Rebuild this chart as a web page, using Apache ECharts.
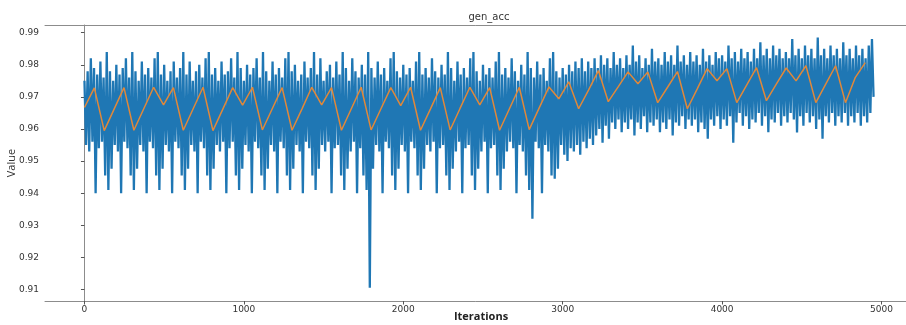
<!DOCTYPE html>
<html>
<head>
<meta charset="utf-8">
<script src="https://cdn.jsdelivr.net/npm/echarts@6/dist/echarts.min.js"></script>
<style>
  html, body { margin: 0; padding: 0; background: #fff; }
  #chart { width: 906px; height: 325px; }
</style>
</head>
<body>
<div id="chart"></div>
<script>
// raw gen_acc, one value every 10 iterations (peaks / dips of the noisy trace)
const blueStep = 10;
const blueValues = [
  .975, .955, .978, .953, .982, .956, .979, .940, .977, .954, .981, .956, .976, .9455, .984, .941, .978, .9476, .975, .955,
  .980, .953, .977, .940, .979, .956, .982, .954, .976, .9455, .984, .941, .978, .9476, .975, .955, .981, .953, .977, .940,
  .979, .956, .976, .954, .982, .9455, .984, .941, .977, .9476, .980, .955, .975, .953, .978, .940, .981, .956, .976, .954,
  .979, .9455, .984, .941, .977, .9476, .981, .955, .975, .953, .978, .940, .980, .956, .976, .954, .982, .9455, .984, .941,
  .977, .9476, .979, .955, .975, .953, .981, .956, .977, .940, .978, .954, .982, .956, .976, .9455, .984, .941, .979, .9476,
  .975, .955, .980, .953, .977, .940, .979, .956, .982, .954, .976, .9455, .984, .941, .978, .9476, .975, .955, .981, .953,
  .977, .940, .979, .956, .976, .954, .982, .9455, .984, .941, .978, .9476, .980, .955, .975, .953, .977, .940, .981, .956,
  .976, .954, .979, .9455, .984, .941, .977, .9476, .982, .955, .975, .953, .978, .956, .980, .940, .976, .954, .981, .955,
  .977, .9455, .984, .941, .979, .9476, .975, .953, .982, .956, .978, .940, .976, .954, .980, .9455, .977, .941, .984, .9105,
  .979, .9476, .976, .955, .981, .953, .977, .940, .979, .956, .975, .954, .982, .9455, .984, .941, .978, .9476, .976, .955,
  .980, .953, .977, .940, .979, .956, .975, .954, .981, .9455, .984, .941, .977, .9476, .979, .955, .976, .953, .982, .956,
  .978, .940, .976, .954, .980, .955, .977, .9455, .984, .941, .979, .9476, .975, .953, .981, .956, .977, .940, .979, .954,
  .976, .955, .982, .9455, .984, .941, .978, .9476, .975, .953, .980, .956, .977, .940, .979, .954, .976, .955, .981, .9455,
  .984, .941, .977, .9476, .979, .953, .976, .956, .982, .954, .978, .940, .975, .955, .980, .953, .977, .9455, .984, .941,
  .979, .932, .976, .956, .981, .954, .977, .940, .979, .955, .975, .953, .982, .9455, .984, .9445, .978, .9476, .976, .955,
  .979, .952, .977, .950, .980, .954, .978, .953, .981, .955, .979, .952, .982, .956, .978, .954, .981, .957, .979, .955,
  .982, .958, .979, .960, .983, .9557, .980, .961, .982, .957, .979, .962, .984, .960, .980, .963, .982, .959, .979, .962,
  .983, .960, .980, .963, .986, .958, .981, .962, .983, .960, .979, .964, .982, .959, .980, .962, .985, .961, .981, .963,
  .982, .959, .980, .962, .984, .960, .981, .963, .983, .958, .980, .962, .986, .961, .981, .964, .983, .960, .980, .963,
  .984, .961, .981, .963, .983, .959, .980, .962, .985, .960, .981, .957, .983, .963, .980, .961, .984, .964, .982, .960,
  .983, .963, .981, .961, .986, .964, .982, .9557, .984, .962, .981, .965, .985, .961, .982, .964, .984, .960, .981, .963,
  .985, .962, .982, .965, .987, .961, .983, .964, .985, .959, .982, .963, .986, .962, .983, .965, .985, .961, .982, .964,
  .984, .962, .982, .965, .988, .963, .983, .9589, .985, .964, .982, .961, .986, .965, .983, .962, .985, .964, .982, .960,
  .9885, .963, .983, .957, .985, .964, .982, .962, .986, .965, .983, .961, .985, .964, .982, .962, .987, .965, .983, .961,
  .985, .964, .982, .962, .986, .965, .983, .961, .985, .964, .982, .962, .986, .965, .988, .970
];

// smoothed curve, one value every 62 iterations
const orangeStep = 62;
const orangeValues = [
  .9667, .9728, .9595, .9662, .9729, .9596, .9663, .9730,
  .9675, .9729, .9596, .9663, .9730, .9595, .9662, .9729,
  .9674, .9730, .9597, .9663, .9729, .9596, .9662, .9730,
  .9675, .9729, .9596, .9663, .9730, .9597, .9663, .9729,
  .9673, .9730, .9596, .9662, .9729, .9597, .9664, .9730,
  .9675, .9729, .9596, .9663, .9730, .9598, .9665, .9731,
  .9694, .9747, .9663, .9721, .9782, .9685, .9731, .9778,
  .9741, .9778, .9682, .9730, .9779, .9663, .9725, .9788,
  .9750, .9788, .9682, .9737, .9791, .9688, .9740, .9790,
  .9750, .9797, .9682, .9740, .9797, .9682, .9761, .9807
];

const xTicks = [0, 1000, 2000, 3000, 4000, 5000];
const yTicks = [0.91, 0.92, 0.93, 0.94, 0.95, 0.96, 0.97, 0.98, 0.99];

const chart = echarts.init(document.getElementById('chart'));
const tickFont = { fontFamily: 'DejaVu Sans', fontSize: 9, color: '#333' };
const spine = { lineStyle: { color: '#8c8c8c', width: 1 } };

const option = {
  animation: false,
  backgroundColor: '#fff',
  grid: {
    left: 45, top: 25, width: 868, height: 276,
    outerBoundsMode: 'none',
    containLabel: false
  },
  xAxis: [{
    type: 'value',
    min: -247.5, max: 5197.5,
    splitLine: { show: false },
    axisLine: spine,
    axisTick: { customValues: xTicks, length: 3.5, lineStyle: { color: '#555' } },
    axisLabel: Object.assign({ customValues: xTicks, margin: 4, formatter: v => String(v) }, tickFont)
  }, {
    // top spine only
    type: 'value', position: 'top',
    min: -247.5, max: 5197.5,
    splitLine: { show: false },
    axisLine: spine,
    axisTick: { show: false },
    axisLabel: { show: false }
  }],
  yAxis: {
    type: 'value',
    min: 0.9064, max: 0.9924,
    splitLine: { show: false },
    axisLine: Object.assign({ show: true }, spine),
    axisTick: { show: true, customValues: yTicks, length: 3.5, lineStyle: { color: '#555' } },
    axisLabel: Object.assign({
      customValues: yTicks, margin: 6,
      formatter: v => v.toFixed(2)
    }, tickFont)
  },
  graphic: [
    { type: 'text', x: 489, y: 17, style: { text: 'gen_acc', font: '10px "DejaVu Sans"', fill: '#333', align: 'center', verticalAlign: 'middle' } },
    { type: 'text', x: 481, y: 317, style: { text: 'Iterations', font: 'bold 11px "Open Sans"', fill: '#222', align: 'center', verticalAlign: 'middle' } },
    { type: 'text', x: 12, y: 163, rotation: Math.PI / 2, style: { text: 'Value', font: '11px "Open Sans"', fill: '#333', align: 'center', verticalAlign: 'middle' } }
  ],
  series: [
    {
      name: 'raw',
      type: 'line',
      data: blueValues.map((v, i) => [i * blueStep, v]),
      showSymbol: false,
      sampling: null,
      lineStyle: { color: '#1f77b4', width: 2.3, join: 'bevel' },
      z: 2
    },
    {
      name: 'smooth',
      type: 'line',
      data: orangeValues.map((v, i) => [i * orangeStep, v]),
      showSymbol: false,
      lineStyle: { color: '#e0883a', width: 1.5 },
      z: 3
    }
  ]
};

chart.setOption(option);
</script>
</body>
</html>
